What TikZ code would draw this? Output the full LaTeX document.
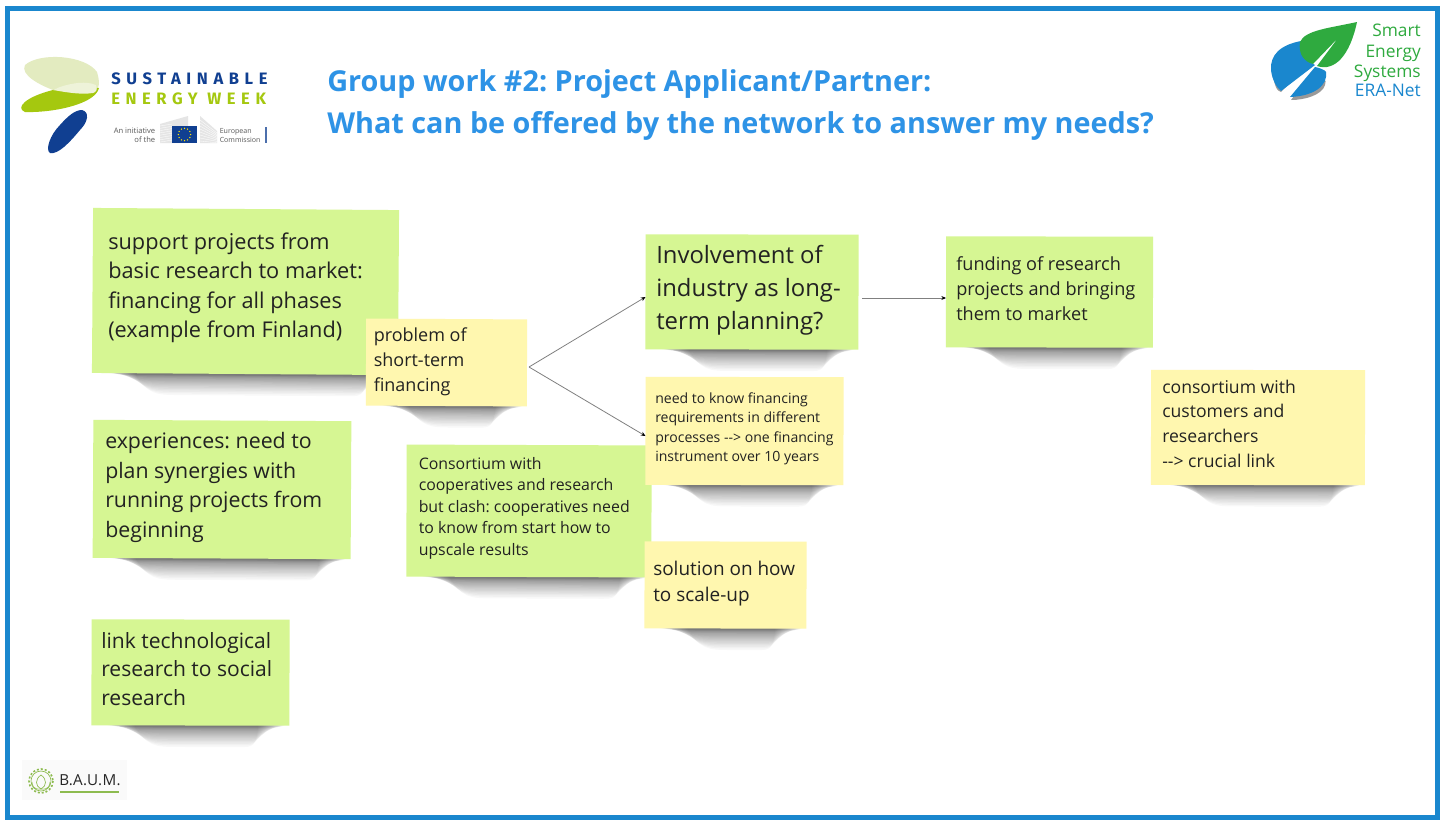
\documentclass[tikz,border=0pt]{standalone}
\usepackage{fontspec}
\setmainfont{Open Sans}
\frenchspacing
\newfontfamily\sewfont[LetterSpace=34]{Fira Sans}
\newfontfamily\baumfont[LetterSpace=2]{Open Sans}
\usetikzlibrary{arrows.meta}
\definecolor{frameblue}{HTML}{1A87CE}
\definecolor{titleblue}{HTML}{2E93E6}
\definecolor{notegreen}{HTML}{D6F693}
\definecolor{noteyellow}{HTML}{FFF7AF}
\definecolor{ink}{HTML}{222222}
\definecolor{sewgreen}{HTML}{A5C80F}
\definecolor{sewlight}{HTML}{E3EBC0}
\definecolor{sewblue}{HTML}{103F91}
\definecolor{sesgreen}{HTML}{2FAA3F}
\definecolor{baumgreen}{HTML}{8DBB4F}
\tikzset{
  x=0.75pt,y=-0.75pt,
  notebox/.style={inner sep=0pt,outer sep=0pt,draw=none},
  notetext/.style={anchor=north west,inner sep=0pt,align=left,text=ink},
  conn/.style={draw=black!50,line width=0.6pt,-{Stealth[length=3.5pt,width=3pt,color=black]}},
}
\newcommand{\fs}[2]{\fontsize{#1}{#2}\selectfont}
% name, cx, cy, w, h, angle, colour
\newcommand{\stickynote}[7]{%
  \begin{scope}[shift={(#2,#3)},rotate=-#6]
    \foreach \k in {1,2,...,24}{
      \pgfmathsetmacro{\tv}{\k/24}
      \pgfmathsetmacro{\dpth}{0.5*#5+1.5+20*\tv*\tv}
      \pgfmathsetmacro{\xl}{-0.5*#4+10+32*\tv}
      \pgfmathsetmacro{\xr}{0.5*#4-3-28*\tv}
      \fill[black,opacity=0.028] (\xl,{0.5*#5-1}) .. controls ({\xl+14},\dpth) and ({\xl+22},\dpth) .. ({\xl+45},\dpth) -- ({\xr-18},\dpth) .. controls ({\xr-6},\dpth) and ({\xr-2},\dpth) .. (\xr,{0.5*#5-1}) -- cycle;
    }
  \end{scope}
  \node[notebox,fill=#7,minimum width={#4*0.75pt},minimum height={#5*0.75pt},rotate=-#6] (#1) at (#2,#3) {};
}
\begin{document}
\begin{tikzpicture}
\useasboundingbox (0,0) rectangle (1446,825);
\fill[white] (0,0) rectangle (1446,825);
\draw[frameblue,line width=3.75pt] (7.5,8.5) rectangle (1437.5,817);

% SEW logo
\fill[sewlight] (25,65) .. controls (40,52) and (85,55) .. (97,72) .. controls (101,85) and (98,90) .. (95,90) .. controls (80,85) and (65,88) .. (53,90) .. controls (40,85) and (20,75) .. (25,65) -- cycle;
\fill[sewgreen] (53,90) .. controls (70,84) and (85,88) .. (99,88) .. controls (95,105) and (50,113) .. (25,112) .. controls (15,108) and (25,97) .. (53,90) -- cycle;
\fill[sewlight!60] (53,90) .. controls (65,84) and (85,80) .. (96,85) .. controls (98,90) and (96,92) .. (93,93) .. controls (80,95) and (65,92) .. (53,90) -- cycle;
\fill[sewblue] (82,110) .. controls (90,112) and (88,122) .. (80,130) .. controls (70,142) and (58,155) .. (50,153) .. controls (45,150) and (50,135) .. (60,125) .. controls (68,116) and (75,110) .. (82,110) -- cycle;
\node[anchor=west,inner sep=0pt,text=sewblue,font=\sewfont\bfseries\fs{12.4}{13}] (sew1) at (111,78.5) {SUSTAINABLE};
\node[anchor=west,inner sep=0pt,text=sewgreen,font=\sewfont\bfseries\fs{12.4}{13}] (sew2) at (111,98.5) {ENERGY WEEK};
\node[anchor=east,inner sep=0pt,align=right,text=black!65,font=\fs{5.7}{6.4}] (sew3) at (155.5,135.5) {An initiative\\of the};
\node[anchor=west,inner sep=0pt,align=left,text=black!65,font=\fs{5.3}{6.4}] (sew4) at (219.5,135.5) {European\\Commission};
\fill[black!10] (160,124) -- (188,116) -- (188,143) -- (160,143) -- cycle;
\fill[black!10] (200,116) -- (217,131) -- (217,143) -- (200,143) -- cycle;
\foreach \k in {0,...,7}{
  \draw[white,line width=0.25pt] (160,{126+\k*2.3}) -- (172,{124+\k*2.3});
  \draw[white,line width=0.25pt] (200,{120+\k*3}) -- (217,{133+\k*1.4});
}
\fill[sewblue] (172,126) rectangle (197,143);
\foreach \a in {0,30,...,330}{
  \fill[yellow!85!orange] ({184.5+6.2*cos(\a)},{134.5+6.2*sin(\a)}) circle (0.75);
}
\fill[sewblue!75] (265,127) rectangle (267,143);

% Smart Energy logo
\fill[black!40] (1274,68) .. controls (1272,85) and (1278,92) .. (1281,92) -- (1306,66) -- cycle;
\fill[black!40] (1291,100) -- (1312,72) .. controls (1322,75) and (1328,80) .. (1325,85) .. controls (1322,95) and (1305,100) .. (1291,100) -- cycle;
\fill[frameblue] (1301,41) .. controls (1280,45) and (1270,55) .. (1271,70) .. controls (1272,80) and (1277,88) .. (1281,91) -- (1315,65) .. controls (1305,60) and (1299,50) .. (1301,41) -- cycle;
\fill[frameblue] (1290,97) -- (1315,67) .. controls (1320,68) and (1325,70) .. (1326,72) .. controls (1328,85) and (1315,96) .. (1290,97) -- cycle;
\fill[sesgreen] (1357,22) .. controls (1330,28) and (1305,30) .. (1300,42) .. controls (1298,55) and (1305,62) .. (1313,64) -- (1338,38) -- (1317,66) .. controls (1335,72) and (1350,55) .. (1357,22) -- cycle;
\node[anchor=north east,inner sep=0pt,align=right,text=sesgreen,font=\fs{13}{15.3}] (ses1) at (1421,24) {Smart\\Energy\\Systems};
\node[anchor=north east,inner sep=0pt,text=frameblue,font=\fs{13}{15.3}] (ses2) at (1421,84) {ERA-Net};

% BAUM logo
\fill[black!2] (22,760) rectangle (127,800);
\draw[baumgreen,line width=0.5pt] (41,781) circle (10);
\draw[baumgreen,line width=1.2pt,dash pattern=on 1.5pt off 1.5pt] (41,781) circle (12);
\draw[baumgreen,line width=0.5pt] (41,789) .. controls (35,786) and (35,779) .. (41,775) .. controls (47,779) and (47,786) .. (41,789);
\draw[baumgreen,line width=0.5pt] (41,789) .. controls (33,790) and (32,785) .. (32,782);
\draw[baumgreen,line width=0.5pt] (41,789) .. controls (49,790) and (50,785) .. (50,782);
\node[anchor=west,inner sep=0pt,text=black!85,font=\baumfont\fs{11.4}{14}] (baum) at (59,780) {B.A.U.M.};
\fill[baumgreen] (60,791) rectangle (119,792.5);

% Title
\node[anchor=west,inner sep=0pt,text=titleblue,font=\bfseries\fs{21.6}{30}] (title1) at (327,84.5) {Group work \#2: Project Applicant/Partner:};
\node[anchor=west,inner sep=0pt,text=titleblue,font=\bfseries\fs{21.6}{30}] (title2) at (327,125.5) {What can be offered by the network to answer my needs?};

% Notes
\stickynote{support}{245.5}{291.5}{306}{165}{0.4}{notegreen}
\node[notetext,font=\fs{16.3}{22.1}] (supportT) at (108,232.5) {support projects from\\basic research to market:\\financing for all phases\\(example from Finland)};
\stickynote{experiences}{222}{489.5}{258}{138}{0.3}{notegreen}
\node[notetext,font=\fs{16}{22.3}] (experiencesT) at (105,432) {experiences: need to\\plan synergies with\\running projects from\\beginning};
\stickynote{link}{190.5}{672.5}{198}{106}{0.1}{notegreen}
\node[notetext,font=\fs{15.8}{21.5}] (linkT) at (101,632) {link technological\\research to social\\research};
\stickynote{short}{446.5}{362.5}{161}{87}{0.3}{noteyellow}
\node[notetext,font=\fs{13.5}{18.7}] (shortT) at (373.5,327.5) {problem of\\short-term\\financing};
\stickynote{consortium}{529}{511}{245}{132}{0.2}{notegreen}
\node[notetext,font=\fs{11.9}{16.1}] (consortiumT) at (418.5,457) {Consortium with\\cooperatives and research\\but clash: cooperatives need\\to know from start how to\\upscale results};
\stickynote{involve}{752}{292}{213}{115}{0.1}{notegreen}
\node[notetext,font=\fs{17.9}{24.8}] (involveT) at (656,244.5) {Involvement of\\industry as long-\\term planning?};
\stickynote{need}{744.5}{431}{198}{108}{0.1}{noteyellow}
\node[notetext,font=\fs{10.55}{14.5}] (needT) at (655,392.5) {need to know financing\\requirements in different\\processes -{}-{}> one financing\\instrument over 10 years};
\stickynote{solution}{725.5}{585}{162}{87}{0.1}{noteyellow}
\node[notetext,font=\fs{14.2}{19.5}] (solutionT) at (653,561) {solution on how\\to scale-up};
\stickynote{funding}{1049.5}{292}{207}{111}{0.1}{notegreen}
\node[notetext,font=\fs{13.6}{18.7}] (fundingT) at (956,256.5) {funding of research\\projects and bringing\\them to market};
\stickynote{crucial}{1258}{427.5}{214}{115}{0.1}{noteyellow}
\node[notetext,font=\fs{13.2}{18.6}] (crucialT) at (1162,379.5) {consortium with\\customers and\\researchers\\-{}-{}> crucial link};

% Connectors
\coordinate (fork) at (529,367);
\coordinate (funstart) at (862,298);
\draw[conn] (fork) -- (involve.west |- 0,297);
\draw[conn] (fork) -- (need.west |- 0,436);
\draw[conn] (funstart) -- (funding.west |- 0,298);
\end{tikzpicture}
\end{document}
